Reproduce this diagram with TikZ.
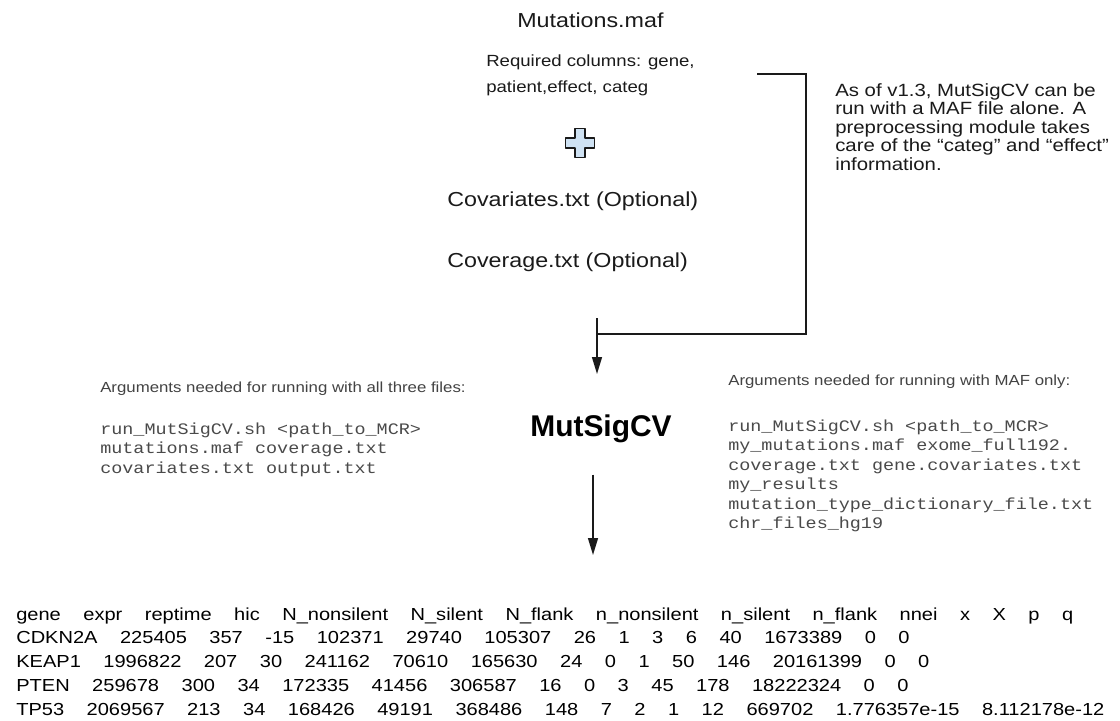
\documentclass[tikz,border=0pt]{standalone}
\usepackage{fontspec}
\setmainfont{Liberation Sans}
\newfontfamily\widesans{Liberation Sans}[FakeStretch=1.15]
\newfontfamily\widemono{Liberation Mono}[FakeStretch=1.15]
\usetikzlibrary{
    arrows.meta,
    calc,
    positioning
}
\definecolor{ink}{HTML}{1A1A1A}
\definecolor{argcol}{HTML}{434343}
\definecolor{codecol}{HTML}{4A4A4A}
\definecolor{plusfill}{HTML}{CFE2F3}
\newcommand{\widecells}{\spaceskip=16pt\relax}
\tikzset{
    txt/.style={inner sep=0pt, anchor=base west},
    heading/.style={txt, text=ink, font=\widesans\fontsize{14.4}{17}\selectfont},
    reqcols/.style={txt, text=ink, font=\widesans\fontsize{11.5}{14}\selectfont},
    note/.style={txt, text=ink, font=\widesans\fontsize{12.6}{15}\selectfont},
    argtxt/.style={txt, text=argcol, font=\widesans\fontsize{10.4}{12}\selectfont},
    codeline/.style={txt, text=codecol, font=\widemono\fontsize{11.4}{13}\selectfont},
    tablerow/.style={txt, text=black, font=\widesans\fontsize{12.4}{15}\selectfont,
        execute at begin node=\widecells},
    tool/.style={inner sep=0pt, anchor=base, text=black, font=\bfseries\fontsize{21.3}{25}\selectfont},
    flow/.style={draw=ink, line width=1.1pt, -{Triangle[length=12pt, width=7pt]}},
    bracket/.style={draw=ink, line width=1.4pt},
    plussign/.style={draw=ink, fill=plusfill, line width=1.2pt, line join=round}
}

\begin{document}
\begin{tikzpicture}
    \fill[white] (0, 0) rectangle (28, -18);
    \useasboundingbox (0, 0) rectangle (28, -18);

    % inputs
    \node[heading] (maf) at (12.925, -0.675) {Mutations.maf};
    \node[reqcols] (req1) at (12.15, -1.65) {Required columns: gene,};
    \node[reqcols] (req2) at (12.15, -2.3) {patient,effect, categ};
    \coordinate (plus) at (14.5, -3.575);
    \draw[plussign] (plus) ++(-0.12, 0.36) -- ++(0.24, 0) -- ++(0, -0.24) -- ++(0.24, 0)
        -- ++(0, -0.24) -- ++(-0.24, 0) -- ++(0, -0.24) -- ++(-0.24, 0) -- ++(0, 0.24)
        -- ++(-0.24, 0) -- ++(0, 0.24) -- ++(0.24, 0) -- cycle;
    \node[heading] (cov) at (11.175, -5.15) {Covariates.txt (Optional)};
    \node[heading] (cvg) at (11.175, -6.675) {Coverage.txt (Optional)};

    % note on the right
    \foreach \ln [count=\i] in {{As of v1.3, MutSigCV can be}, {run with a MAF file alone. A},
        {preprocessing module takes}, {care of the “categ” and “effect”}, {information.}}
        \node[note] (note\i) at (20.875, {-2.4-0.4625*(\i-1)}) {\ln};

    % tool
    \node[tool] (mutsig) at (15.025, -10.9) {MutSigCV};

    \coordinate (brA) at (18.925, -1.85);
    \coordinate (brB) at (20.15, -1.85);
    \coordinate (brC) at (20.15, -8.35);
    \coordinate (join) at (14.925, -8.35);
    \coordinate (arrtop) at (14.925, -7.95);
    \coordinate (outtip) at (14.825, -13.875);
    \draw[bracket] (brA) -- (brB) -- (brC) -- (join);
    \draw[flow, shorten >=1cm] (arrtop) -- (arrtop |- mutsig.north);
    \draw[flow, shorten <=0.8cm] (mutsig.south -| outtip) -- (outtip);

    % arguments
    \node[argtxt] (argsall) at (2.5, -9.8) {Arguments needed for running with all three files:};
    \foreach \ln [count=\i] in {{run\_MutSigCV.sh <path\_to\_MCR>}, {mutations.maf coverage.txt},
        {covariates.txt output.txt}}
        \node[codeline] (codeall\i) at (2.5, {-10.85-0.4875*(\i-1)}) {\ln};

    \node[argtxt] (argsmaf) at (18.2, -9.625) {Arguments needed for running with MAF only:};
    \foreach \ln [count=\i] in {{run\_MutSigCV.sh <path\_to\_MCR>}, {my\_mutations.maf exome\_full192.},
        {coverage.txt gene.covariates.txt}, {my\_results}, {mutation\_type\_dictionary\_file.txt},
        {chr\_files\_hg19}}
        \node[codeline] (codemaf\i) at (18.2, {-10.775-0.4875*(\i-1)}) {\ln};

    % output table
    \foreach \ln [count=\i] in {
        {gene expr reptime hic N\_nonsilent N\_silent N\_flank n\_nonsilent n\_silent n\_flank nnei x X p q},
        {CDKN2A 225405 357 -15 102371 29740 105307 26 1 3 6 40 1673389 0 0},
        {KEAP1 1996822 207 30 241162 70610 165630 24 0 1 50 146 20161399 0 0},
        {PTEN 259678 300 34 172335 41456 306587 16 0 3 45 178 18222324 0 0},
        {TP53 2069567 213 34 168426 49191 368486 148 7 2 1 12 669702 1.776357e-15 8.112178e-12}}
        \node[tablerow] (row\i) at (0.4, {-15.5-0.594*(\i-1)}) {\ln};
\end{tikzpicture}
\end{document}
